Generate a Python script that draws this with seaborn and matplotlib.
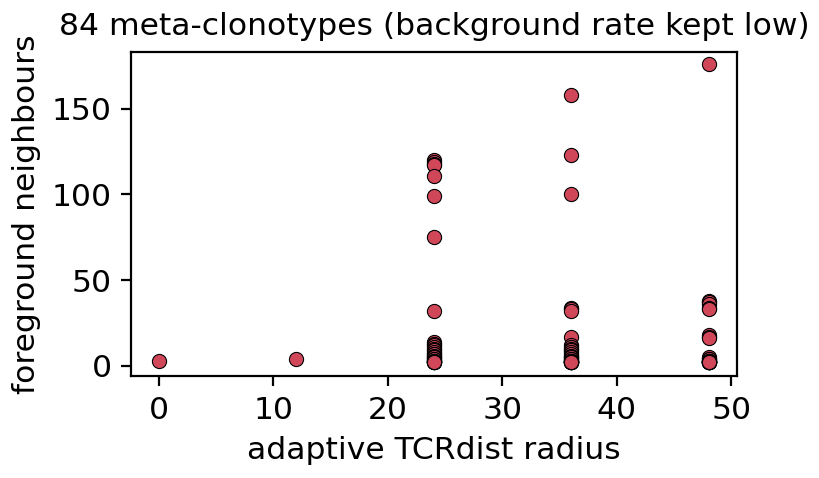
import numpy as np
import pandas as pd
import matplotlib
matplotlib.use("Agg")
import matplotlib.pyplot as plt
import seaborn as sns

# radius of each meta-clonotype and how many foreground neighbours it picks up
radius_0 = [0]
nbrs_0 = [3]
radius_12 = [12]
nbrs_12 = [4]
nbrs_24 = [120, 119, 118, 117, 111, 99, 75, 32,
           14, 13, 12, 11, 10, 9, 8, 7, 7, 6, 5, 5, 4, 4, 3, 3, 3, 2, 2, 2, 2, 2]
nbrs_36 = [158, 123, 100, 34, 33, 32, 17,
           12, 11, 10, 9, 8, 7, 6, 5, 5, 4, 4, 3, 3, 3, 2, 2, 2, 2, 2, 2, 2]
nbrs_48 = [176, 38, 37, 36, 34, 33, 18, 17, 16,
           5, 4, 4, 3, 3, 3, 2, 2, 2, 2, 2, 2, 2, 2, 2]

radius = radius_0 + radius_12 + [24] * len(nbrs_24) + [36] * len(nbrs_36) + [48] * len(nbrs_48)
neighbours = nbrs_0 + nbrs_12 + nbrs_24 + nbrs_36 + nbrs_48

df = pd.DataFrame({"radius": radius, "neighbours": neighbours})

plt.rcParams["font.family"] = ["DejaVu Sans"]
fig = plt.figure(figsize=(4.1, 2.39), dpi=200)
ax = fig.add_axes([0.16, 0.213, 0.739, 0.678])

sns.scatterplot(data=df, x="radius", y="neighbours", ax=ax,
                color="#d0475a", edgecolor="black", linewidth=0.4, s=26)

ax.set_xlim(-2.4, 50.5)
ax.set_ylim(-6, 183)
ax.set_xticks([0, 10, 20, 30, 40, 50])
ax.set_yticks([0, 50, 100, 150])
ax.tick_params(labelsize=11.3)
ax.set_xlabel("adaptive TCRdist radius", fontsize=11.3)
ax.set_ylabel("foreground neighbours", fontsize=11.3)
ax.set_title(f"{len(df)} meta-clonotypes (background rate kept low)", fontsize=11.3)

fig.savefig("out.png", dpi=200)
